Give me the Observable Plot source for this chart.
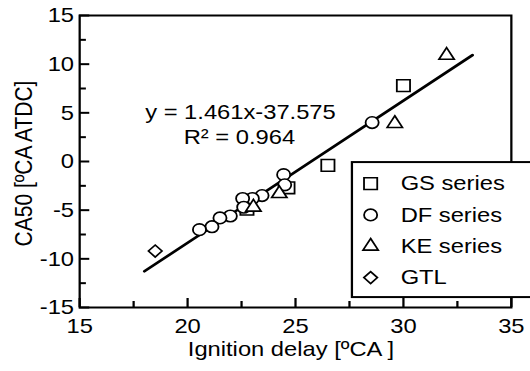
<!DOCTYPE html>
<html><head><meta charset="utf-8">
<script src="https://cdn.jsdelivr.net/npm/d3@7"></script>
<script src="https://cdn.jsdelivr.net/npm/@observablehq/plot@0.6"></script>
<style>html,body{margin:0;padding:0;background:#fff;overflow:hidden}</style>
</head><body><div id="chart"></div>
<script>
// ---- data ----
const gsX = [30.0, 26.5, 24.65, 22.75];
const gsY = [7.8, -0.4, -2.7, -4.9];
const dfX = [28.55, 24.45, 24.5, 23.45, 23.0, 22.55, 22.6, 21.98, 21.5, 21.13, 20.55];
const dfY = [4.0, -1.35, -2.4, -3.5, -3.8, -3.8, -4.7, -5.6, -5.8, -6.7, -7.0];
const keX = [32.0, 29.6, 24.25, 23.05];
const keY = [10.9, 3.9, -3.3, -4.7];
const gtlX = [18.5];
const gtlY = [-9.2];
const seriesNames = ["GS series", "DF series", "KE series", "GTL"];
const xTicks = [15, 20, 25, 30, 35];
const xMinor = [17.5, 22.5, 27.5, 32.5];
const yTicks = [-15, -10, -5, 0, 5, 10, 15];
const yMinor = [-12.5, -7.5, -2.5, 2.5, 7.5, 12.5];
const fitSlope = 1.461, fitIntercept = -37.575;
const fitRange = [18, 33.2];
const eqLines = ["y = 1.461x-37.575", "R\u00B2 = 0.964"];
const xLabel = "Ignition delay [\u00BACA ]";
const yLabel = "CA50 [\u00BACA ATDC]";

// ---- layout ----
const S = 1.13;                 // horizontal stretch of the reference
const W = Math.round(530 / S), H = 371;
const mL = 70, mR = 17, mT = 15, mB = 64;
const fW = W - mL - mR, fH = H - mT - mB;
const FS = 21;

const toPts = (xs, ys) => xs.map((x, i) => ({x, y: ys[i]}));
const gs = toPts(gsX, gsY), df = toPts(dfX, dfY), ke = toPts(keX, keY), gtl = toPts(gtlX, gtlY);
const fit = fitRange.map(x => ({x, y: fitSlope * x + fitIntercept}));

// annotation & legend positions (data units)
const eqPos = [{x: 22.45, y: 4.4}, {x: 22.4, y: 1.8}];
const legBox = {x1: 27.64, x2: 40, y1: -13.98, y2: -0.11};
const legSymX = 28.48, legTextX = 29.87, legY0 = -2.27, legStep = 3.22;
const legSymbols = ["square", "circle", "triangle", "diamond2"];
const legR = [6.6, 5.8, 5.0, 5.4];

const dotOpts = {stroke: "black", fill: "white", strokeWidth: 1.6};
const legendMarks = seriesNames.flatMap((name, i) => [
  Plot.dot([name], {x: () => legSymX, y: () => legY0 - i * legStep, symbol: () => legSymbols[i], r: legR[i], ...dotOpts, fill: "none"}),
  Plot.text([name], {x: () => legTextX, y: () => legY0 - i * legStep, text: d => d, textAnchor: "start", lineAnchor: "middle", fontSize: FS})
]);

const chart = Plot.plot({
  width: W, height: H,
  marginLeft: mL, marginRight: mR, marginTop: mT, marginBottom: mB,
  x: {domain: [15, 35]},
  y: {domain: [-15, 15]},
  style: {fontFamily: "'Liberation Sans', Arial, sans-serif", fontSize: FS + "px", color: "black", background: "white"},
  marks: [
    Plot.tickX(xTicks, {x: d => d, insetTop: fH - 9, strokeWidth: 2}),
    Plot.tickX(xMinor, {x: d => d, insetTop: fH - 6, strokeWidth: 2}),
    Plot.tickY(yTicks, {y: d => d, insetRight: fW - 9, strokeWidth: 2}),
    Plot.tickY(yMinor, {y: d => d, insetRight: fW - 6, strokeWidth: 2}),
    Plot.frame({stroke: "black", strokeWidth: 2}),
    Plot.axisX({ticks: xTicks, tickSize: 0, tickPadding: 11, tickFormat: d => String(d), label: null, fontSize: FS}),
    Plot.axisY({ticks: yTicks, tickSize: 0, tickPadding: 5, tickFormat: d => String(d), label: null, fontSize: FS}),
    Plot.line(fit, {x: "x", y: "y", stroke: "black", strokeWidth: 2.6}),
    Plot.dot(gs, {x: "x", y: "y", symbol: "square", r: 6.6, ...dotOpts}),
    Plot.dot(df, {x: "x", y: "y", symbol: "circle", r: 5.8, ...dotOpts}),
    Plot.dot(ke, {x: "x", y: "y", symbol: "triangle", r: 5.0, ...dotOpts}),
    Plot.dot(gtl, {x: "x", y: "y", symbol: "diamond2", r: 5.4, ...dotOpts}),
    Plot.text(eqLines, {x: (d, i) => eqPos[i].x, y: (d, i) => eqPos[i].y, text: d => d, lineAnchor: "bottom", fontSize: FS}),
    Plot.text([xLabel], {frameAnchor: "bottom", dy: 48, dx: -4, text: d => d, textAnchor: "middle", lineAnchor: "bottom", fontSize: FS}),
    Plot.text([yLabel], {frameAnchor: "left", dx: 28 - mL, dy: 2, rotate: -90, text: d => d, textAnchor: "middle", lineAnchor: "bottom", fontSize: FS}),
    Plot.rect([legBox], {x1: "x1", x2: "x2", y1: "y1", y2: "y2", fill: "white", stroke: "black", strokeWidth: 2}),
    ...legendMarks
  ]
});

chart.setAttribute("width", 530);
chart.setAttribute("height", H);
chart.setAttribute("viewBox", `0 0 ${W} ${H}`);
chart.setAttribute("preserveAspectRatio", "none");
chart.style.width = "530px";
chart.style.height = H + "px";
chart.style.maxWidth = "none";
document.getElementById("chart").appendChild(chart);
</script>
</body></html>
